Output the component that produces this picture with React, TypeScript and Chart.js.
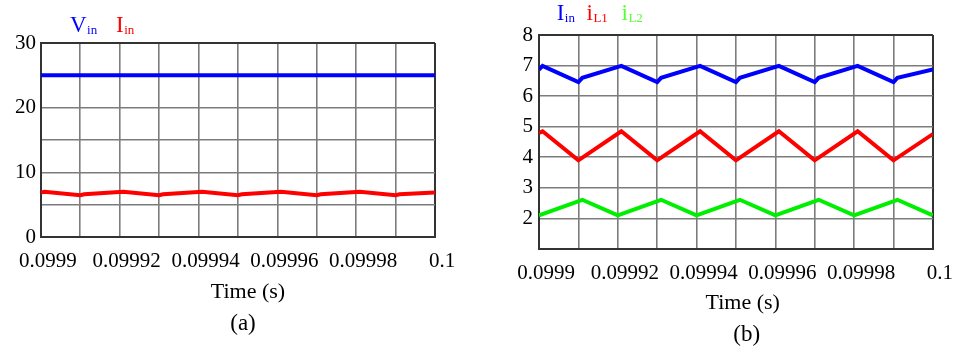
import React, { useEffect, useRef } from "react";
import { Chart, registerables } from "chart.js";

Chart.register(...registerables);

// ---------- data ----------
const xTickLabels = ["0.0999", "", "0.09992", "", "0.09994", "", "0.09996", "", "0.09998", "", "0.1"];

// (a)
const vinTime = [0.0999, 0.1];
const vinValues = [25, 25];

// shared input current (a) & (b)
const iinTime = [
  0.0999, 0.0999009, 0.09991, 0.099911, 0.0999209, 0.09993, 0.099931, 0.0999409, 0.09995,
  0.099951, 0.0999609, 0.09997, 0.099971, 0.0999809, 0.09999, 0.099991, 0.1,
];
const iinValues = [
  6.87, 6.99, 6.46, 6.6, 6.99, 6.46, 6.6, 6.99, 6.46, 6.6, 6.99, 6.46, 6.6, 6.99, 6.46, 6.6, 6.87,
];

// (b)
const iL1Time = [
  0.0999, 0.0999009, 0.09991, 0.0999209, 0.09993, 0.0999409, 0.09995, 0.0999609, 0.09997,
  0.0999809, 0.09999, 0.1,
];
const iL1Values = [4.8, 4.85, 3.9, 4.85, 3.9, 4.85, 3.9, 4.85, 3.9, 4.85, 3.9, 4.76];

const iL2Time = [
  0.0999, 0.099911, 0.09992, 0.099931, 0.09994, 0.099951, 0.09996, 0.099971, 0.09998, 0.099991, 0.1,
];
const iL2Values = [2.1, 2.61, 2.1, 2.61, 2.1, 2.61, 2.1, 2.61, 2.1, 2.61, 2.1];

const yLabelsA = [0, 10, 20, 30];
const yLabelsB = [2, 3, 4, 5, 6, 7, 8];

// ---------- styling ----------
const FONT = "'Liberation Serif', 'Times New Roman', Times, serif";
const BLUE = "#0000ff";
const RED = "#ff0000";
const GREEN = "#00ee00";

const pts = (xs: number[], ys: number[]) => xs.map((x, i) => ({ x, y: ys[i] }));

const captionPlugin = {
  id: "captions",
  afterDraw(chart: any, _args: any, opts: any) {
    const ctx = chart.ctx as CanvasRenderingContext2D;
    ctx.save();
    ctx.textBaseline = "alphabetic";
    for (const it of opts.items || []) {
      ctx.fillStyle = it.color || "#000";
      ctx.font = `${it.size}px ${FONT}`;
      if (it.sub) {
        ctx.textAlign = "left";
        ctx.fillText(it.text, it.x, it.y);
        const w = ctx.measureText(it.text).width;
        ctx.font = `${it.subSize}px ${FONT}`;
        ctx.fillText(it.sub, it.x + w + 0.5, it.y + 2);
      } else {
        ctx.textAlign = "center";
        ctx.fillText(it.text, it.x, it.y);
      }
    }
    ctx.restore();
  },
};

function lineDs(xs: number[], ys: number[], color: string) {
  return {
    data: pts(xs, ys),
    borderColor: color,
    backgroundColor: color,
    borderWidth: 4,
    pointRadius: 0,
    tension: 0,
    fill: false,
  };
}

function isEdge(c: any, minV: number, maxV: number) {
  return c.tick && (Math.abs(c.tick.value - minV) < 1e-12 || Math.abs(c.tick.value - maxV) < 1e-12);
}

function gridOpts(minV: number, maxV: number) {
  return {
    drawTicks: false,
    color: (c: any) => (isEdge(c, minV, maxV) ? "#333333" : "#7c7c7c"),
    lineWidth: (c: any) => (isEdge(c, minV, maxV) ? 2 : 1.6),
  };
}

function xScale(height: number) {
  return {
    type: "linear",
    min: 0.0999,
    max: 0.1,
    ticks: {
      stepSize: 0.00001,
      autoSkip: false,
      maxRotation: 0,
      minRotation: 0,
      labelOffset: 7,
      padding: 12,
      color: "#000",
      font: { family: FONT, size: 21 },
      callback: (_v: any, i: number) => xTickLabels[i],
    },
    grid: gridOpts(0.0999, 0.1),
    border: { color: "#333333", width: 2 },
    afterFit: (s: any) => {
      s.height = height;
    },
  };
}

function yScale(min: number, max: number, step: number, labels: number[], width: number, pad: number) {
  return {
    type: "linear",
    min,
    max,
    ticks: {
      stepSize: step,
      padding: pad,
      color: "#000",
      font: { family: FONT, size: 21 },
      callback: (v: any) => (labels.includes(Number(v)) ? String(v) : ""),
    },
    grid: gridOpts(min, max),
    border: { color: "#333333", width: 2 },
    afterFit: (s: any) => {
      s.width = width;
    },
  };
}

function configA(): any {
  return {
    type: "line",
    data: {
      datasets: [lineDs(vinTime, vinValues, BLUE), lineDs(iinTime, iinValues, RED)],
    },
    options: {
      responsive: false,
      animation: false,
      events: [],
      layout: { padding: { left: 0, top: 43, right: 45, bottom: 72 } },
      plugins: {
        legend: { display: false },
        tooltip: { enabled: false },
        captions: {
          items: [
            { text: "V", sub: "in", color: BLUE, x: 70, y: 31.5, size: 23, subSize: 13 },
            { text: "I", sub: "in", color: RED, x: 116, y: 31.5, size: 23, subSize: 13 },
            { text: "Time (s)", x: 248, y: 297.5, size: 22 },
            { text: "(a)", x: 243, y: 330, size: 23 },
          ],
        },
      },
      scales: {
        x: xScale(40),
        y: yScale(0, 30, 5, yLabelsA, 38, 5),
      },
    },
    plugins: [captionPlugin],
  };
}

function configB(): any {
  return {
    type: "line",
    data: {
      datasets: [
        lineDs(iinTime, iinValues, BLUE),
        lineDs(iL1Time, iL1Values, RED),
        lineDs(iL2Time, iL2Values, GREEN),
      ],
    },
    options: {
      responsive: false,
      animation: false,
      events: [],
      layout: { padding: { left: 0, top: 35, right: 19, bottom: 60 } },
      plugins: {
        legend: { display: false },
        tooltip: { enabled: false },
        captions: {
          items: [
            { text: "I", sub: "in", color: BLUE, x: 76.7, y: 20, size: 23, subSize: 13 },
            { text: "i", sub: "L1", color: RED, x: 106.5, y: 20, size: 23, subSize: 13 },
            { text: "i", sub: "L2", color: "#55ff33", x: 141.5, y: 20, size: 23, subSize: 13 },
            { text: "Time (s)", x: 262.7, y: 309.3, size: 22 },
            { text: "(b)", x: 266.7, y: 341, size: 23 },
          ],
        },
      },
      scales: {
        x: xScale(40),
        y: yScale(1, 8, 1, yLabelsB, 59, 6),
      },
    },
    plugins: [captionPlugin],
  };
}

function ChartCanvas({ left, width, make }: { left: number; width: number; make: () => any }) {
  const ref = useRef<HTMLCanvasElement | null>(null);
  useEffect(() => {
    if (!ref.current) return;
    const chart = new Chart(ref.current, make());
    return () => chart.destroy();
  }, [make]);
  return (
    <canvas
      ref={ref}
      width={width}
      height={349}
      style={{ position: "absolute", left, top: 0, width, height: 349, display: "block" }}
    />
  );
}

export default function App() {
  return (
    <div
      style={{
        position: "fixed",
        left: 0,
        top: 0,
        width: 958,
        height: 349,
        background: "#ffffff",
        overflow: "hidden",
      }}
    >
      <ChartCanvas left={0} width={480} make={configA} />
      <ChartCanvas left={480} width={478} make={configB} />
    </div>
  );
}
